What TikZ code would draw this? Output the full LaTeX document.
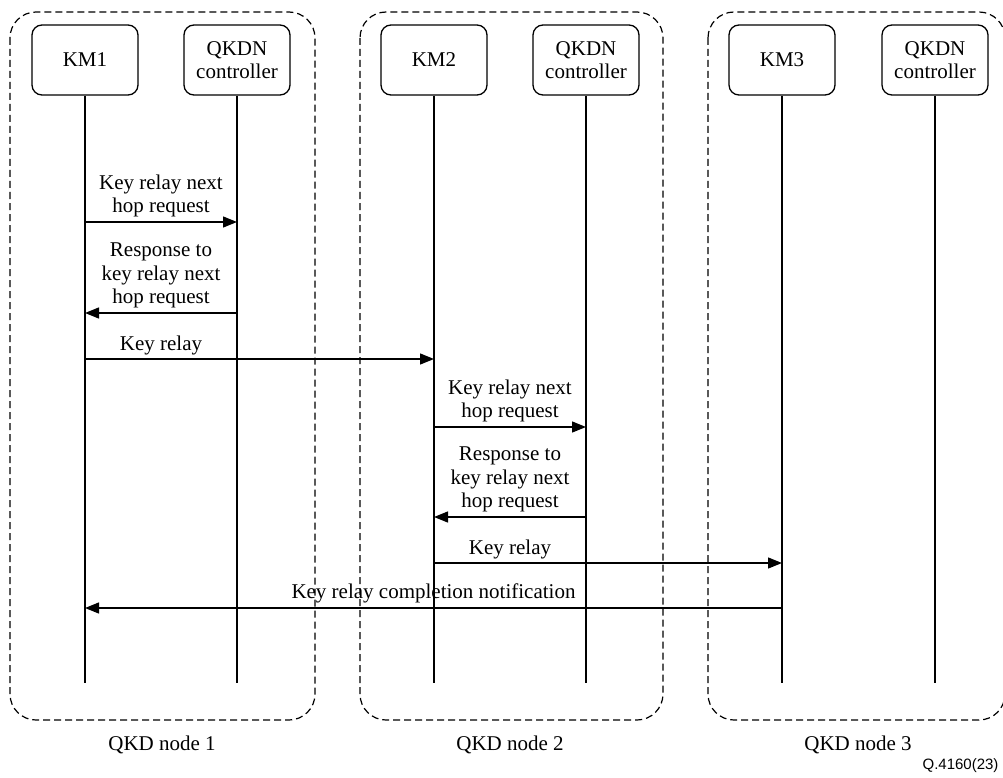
\documentclass[tikz,border=0pt]{standalone}
\usepackage{fontspec}
\setmainfont{Liberation Serif}
\newfontfamily\arialfont{Liberation Sans}
\usetikzlibrary{arrows.meta}
\begin{document}
\begin{tikzpicture}[x=1pt,y=-1pt,
  every node/.style={font=\fontsize{21}{23.5}\selectfont},
  lifebox/.style={draw,line width=1.3pt,rounded corners=10pt,minimum width=106pt,minimum height=70pt,align=center,inner sep=0pt},
  lifeline/.style={line width=1.3pt},
  msg/.style={line width=1.3pt,-{Triangle[length=14pt,width=11pt]}},
  grp/.style={draw,line width=1.2pt,dash pattern=on 7pt off 4pt,rounded corners=26pt},
  msglabel/.style={anchor=south,align=center,inner sep=0pt,yshift=4pt}
]
\useasboundingbox (0,0) rectangle (1003,778);
\clip (0,0) rectangle (1003,778);
% group boxes
\draw[grp] (10,12) rectangle (315,720);
\draw[grp] (360,12) rectangle (663,720);
\draw[grp] (708,12) rectangle (1005,720);
\node (g1) at (162,745) {QKD node 1};
\node (g2) at (510,745) {QKD node 2};
\node (g3) at (858,745) {QKD node 3};
\node[font=\arialfont\fontsize{15}{17}\selectfont,anchor=east] (fig) at (1002,766) {Q.4160(23)};
% lifeline boxes
\node[lifebox] (km1) at (85,60) {KM1};
\node[lifebox] (qc1) at (237,60) {QKDN\\controller};
\node[lifebox] (km2) at (434,60) {KM2};
\node[lifebox] (qc2) at (586,60) {QKDN\\controller};
\node[lifebox] (km3) at (782,60) {KM3};
\node[lifebox] (qc3) at (935,60) {QKDN\\controller};
% lifelines
\foreach \n in {km1,qc1,km2,qc2,km3,qc3}{
  \draw[lifeline] (\n.south) -- (\n.south |- 0,683);
}
% messages
\draw[msg] (km1.south |- 0,222) -- node[msglabel] {Key relay next\\hop request} (qc1.south |- 0,222);
\draw[msg] (qc1.south |- 0,313) -- node[msglabel] {Response to\\key relay next\\hop request} (km1.south |- 0,313);
\draw[msg] (km1.south |- 0,359) -- (km2.south |- 0,359);
\node[msglabel] (l3) at (161,359) {Key relay};
\draw[msg] (km2.south |- 0,427) -- node[msglabel] {Key relay next\\hop request} (qc2.south |- 0,427);
\draw[msg] (qc2.south |- 0,517) -- node[msglabel] {Response to\\key relay next\\hop request} (km2.south |- 0,517);
\draw[msg] (km2.south |- 0,563) -- (km3.south |- 0,563);
\node[msglabel] (l6) at (510,563) {Key relay};
\draw[msg] (km3.south |- 0,608) -- node[msglabel] {Key relay completion notification} (km1.south |- 0,608);
\end{tikzpicture}
\end{document}
